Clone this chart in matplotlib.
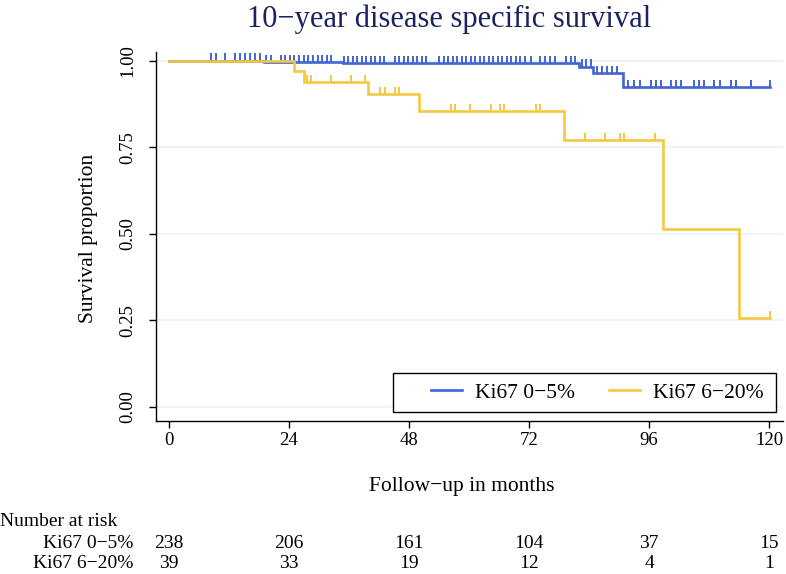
import numpy as np
import matplotlib
matplotlib.use("Agg")
import matplotlib.pyplot as plt
import matplotlib.transforms as mtransforms
import matplotlib.patches as mpatches

W, H = 786, 574
BLUE = "#4363d8"
GOLD = "#f5c842"
NAVY = "#1b2262"
GRID = "#eaf3f3"

plt.rcParams['font.family'] = ['Liberation Serif', 'DejaVu Serif']

# ── data ─────────────────────────────────────────────────────────────────────
groups = ["Ki67 0\u22125%", "Ki67 6\u221220%"]

blue_times = [0, 19.0, 34.8, 82.0, 84.8, 90.8]
blue_surv  = [1.000, 0.996, 0.993, 0.983, 0.964, 0.923]
blue_end   = 120.2
blue_cens  = [8.3, 9.3, 11.2, 13.2, 14.2, 15.2, 16.2, 17.2, 18.1, 19.3, 20.3,
              22.3, 23.2, 24.1, 25.0, 26.0, 26.9, 27.8, 28.8, 29.7, 30.6, 31.5,
              32.4, 34.9, 35.8, 36.7, 37.6, 38.5, 39.4, 40.3, 41.2, 42.1, 43.0,
              45.1, 46.0, 46.9, 47.8, 48.7, 49.6, 50.5, 51.4, 54.0, 54.9, 55.8,
              56.7, 57.6, 58.5, 59.4, 60.3, 61.2, 62.1, 63.0, 63.9, 64.8, 65.7,
              66.6, 67.5, 68.4, 69.3, 70.2, 71.1, 72.3, 74.2, 75.2, 76.2, 77.2,
              79.4, 80.3, 81.2, 82.5, 83.4, 84.3, 85.5, 86.5, 87.5, 88.5, 89.5,
              91.7, 92.9, 94.1, 96.3, 97.3, 98.3, 100.3, 101.3, 102.3, 104.9,
              105.9, 106.9, 108.9, 110.2, 112.4, 113.4, 116.4, 120.2]

gold_times = [0, 24.9, 27.0, 39.8, 50.0, 79.0, 98.8, 114.0]
gold_surv  = [1.000, 0.970, 0.939, 0.903, 0.855, 0.771, 0.514, 0.257]
gold_end   = 120.2
gold_cens  = [27.5, 28.3, 32.3, 36.3, 39.2, 42.2, 43.2, 45.2, 45.9, 56.4, 57.2,
              60.2, 64.3, 66.2, 67.0, 73.4, 74.2, 79.2, 83.2, 87.2, 90.2, 91.0,
              97.2, 120.2]

xticks = [0, 24, 48, 72, 96, 120]
yticks = [0.00, 0.25, 0.50, 0.75, 1.00]
risk_blue = [238, 206, 161, 104, 37, 15]
risk_gold = [39, 33, 19, 12, 4, 1]

# ── figure ───────────────────────────────────────────────────────────────────
fig = plt.figure(figsize=(W / 100, H / 100), dpi=100, facecolor="white")
ax_l, ax_r, ax_t, ax_b = 156, 783, 52, 420.5
ax = fig.add_axes([ax_l / W, 1 - ax_b / H, (ax_r - ax_l) / W, (ax_b - ax_t) / H])

px_per_month = 5.0
x0_px = 169
ax.set_xlim((ax_l - x0_px) / px_per_month, (ax_r - x0_px) / px_per_month)
y0_px, px_per_unit = 407, 346.3
ax.set_ylim(-(ax_b - y0_px) / px_per_unit, (y0_px - ax_t) / px_per_unit)

for t in yticks:
    ax.axhline(t, color=GRID, lw=1.3, zorder=0)


def km(times, surv, end, cens, color, label):
    xs = list(times) + [end]
    ys = list(surv) + [surv[-1]]
    ax.step(xs, ys, where='post', color=color, lw=1.9, label=label,
            zorder=3, clip_on=False, solid_joinstyle='miter')
    idx = np.searchsorted(times, cens, side='right') - 1
    lv = np.array(surv)[idx]
    ax.vlines(cens, lv, lv + 0.021, color=color, lw=1.4, zorder=3, clip_on=False)


km(blue_times, blue_surv, blue_end, blue_cens, BLUE, groups[0])
km(gold_times, gold_surv, gold_end, gold_cens, GOLD, groups[1])

ax.spines['top'].set_visible(False)
ax.spines['right'].set_visible(False)
for s in ('left', 'bottom'):
    ax.spines[s].set_linewidth(1.0)
    ax.spines[s].set_color("black")

ax.set_xticks(xticks)
ax.set_xticklabels([str(v) for v in xticks])
ax.set_yticks(yticks)
ax.set_yticklabels([f"{v:.2f}" for v in yticks])
ax.tick_params(axis='x', direction='out', length=5, width=1.0, pad=3.5, labelsize=13.5)
ax.tick_params(axis='y', direction='out', length=5, width=1.0, pad=9, labelsize=13.5,
               labelrotation=90)
for lab in ax.get_yticklabels():
    lab.set_va('center')

# legend box drawn as a plain frame, entries placed inside it
ax.add_patch(mpatches.Rectangle((393 / W, 1 - 412 / H), (776 - 393) / W, 39 / H,
                                transform=fig.transFigure, facecolor='white',
                                edgecolor='black', lw=1.0, zorder=4, clip_on=False))
leg = ax.legend(loc='center right', bbox_to_anchor=(764 / W, 1 - 392.5 / H),
                bbox_transform=fig.transFigure, ncol=2, fontsize=15.5,
                frameon=False, handlelength=1.45, handletextpad=0.6,
                columnspacing=1.6, borderpad=0, borderaxespad=0)
leg.set_zorder(5)

# ── text ─────────────────────────────────────────────────────────────────────
def fy(p):
    return 1 - p / H


fig.text(449 / W, fy(19), "10\u2212year disease specific survival", ha='center',
         va='center', fontsize=22, color=NAVY)
fig.text(88 / W, fy(238), "Survival proportion", ha='center', va='center',
         rotation=90, fontsize=15.5)
fig.text(462 / W, fy(487), "Follow\u2212up in months", ha='center', va='center',
         fontsize=15.5)

blend = mtransforms.blended_transform_factory(ax.transData, fig.transFigure)
fig.text(0, fy(522), "Number at risk", ha='left', va='center', fontsize=14)
for row_y, lab, vals in [(543, groups[0], risk_blue), (564, groups[1], risk_gold)]:
    fig.text(133 / W, fy(row_y), lab, ha='right', va='center', fontsize=14)
    for xt, v in zip(xticks, vals):
        ax.text(xt, fy(row_y), str(v), transform=blend, ha='center', va='center',
                fontsize=14)

fig.savefig("out.png", dpi=100, facecolor="white")
